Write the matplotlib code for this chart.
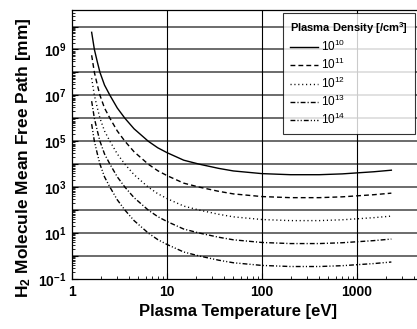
import numpy as np
import matplotlib
matplotlib.use("Agg")
import matplotlib.pyplot as plt
from matplotlib.ticker import LogLocator, FixedLocator, FixedFormatter, NullFormatter

plt.rcParams["font.family"] = ["Liberation Sans", "DejaVu Sans"]
plt.rcParams["mathtext.fontset"] = "custom"
plt.rcParams["mathtext.rm"] = "Liberation Sans"
plt.rcParams["mathtext.bf"] = "Liberation Sans:bold"
plt.rcParams["mathtext.it"] = "Liberation Sans:italic"

# Plasma temperature [eV]
temperature = [1.61, 1.72, 1.85, 1.97, 2.2, 2.51, 3.0, 3.61, 4.5, 6.36, 8.0, 10.0,
               15.0, 22.0, 35.0, 50.0, 100.0, 200.0, 400.0, 700.0, 1000.0, 1500.0, 2300.0]

# H2 mean free path [mm] for each plasma density
mfp_1e10 = [5.6e9, 1.0e9, 2.8e8, 1.0e8, 2.8e7, 1.0e7, 2.8e6, 1.0e6, 3.5e5, 1.0e5, 5.2e4, 3.2e4,
            1.5e4, 1.0e4, 6.6e3, 5.1e3, 3.9e3, 3.5e3, 3.5e3, 3.8e3, 4.2e3, 4.7e3, 5.5e3]
mfp_1e11 = [5.6e8, 1.0e8, 2.8e7, 1.0e7, 2.8e6, 1.0e6, 2.8e5, 1.0e5, 3.5e4, 1.0e4, 5.2e3, 3.2e3,
            1.5e3, 1.0e3, 6.6e2, 5.1e2, 3.9e2, 3.5e2, 3.5e2, 3.8e2, 4.2e2, 4.7e2, 5.5e2]
mfp_1e12 = [5.6e7, 1.0e7, 2.8e6, 1.0e6, 2.8e5, 1.0e5, 2.8e4, 1.0e4, 3.5e3, 1.0e3, 5.2e2, 3.2e2,
            1.5e2, 1.0e2, 6.6e1, 5.1e1, 3.9e1, 3.5e1, 3.5e1, 3.8e1, 4.2e1, 4.7e1, 5.5e1]
mfp_1e13 = [5.6e6, 1.0e6, 2.8e5, 1.0e5, 2.8e4, 1.0e4, 2.8e3, 1.0e3, 3.5e2, 1.0e2, 5.2e1, 3.2e1,
            1.5e1, 1.0e1, 6.6e0, 5.1e0, 3.9e0, 3.5e0, 3.5e0, 3.8e0, 4.2e0, 4.7e0, 5.5e0]
mfp_1e14 = [5.6e5, 1.0e5, 2.8e4, 1.0e4, 2.8e3, 1.0e3, 2.8e2, 1.0e2, 3.5e1, 1.0e1, 5.2e0, 3.2e0,
            1.5e0, 1.0e0, 6.6e-1, 5.1e-1, 3.9e-1, 3.5e-1, 3.5e-1, 3.8e-1, 4.2e-1, 4.7e-1, 5.5e-1]

density_labels = [r"$10^{10}$", r"$10^{11}$", r"$10^{12}$", r"$10^{13}$", r"$10^{14}$"]
series = [mfp_1e10, mfp_1e11, mfp_1e12, mfp_1e13, mfp_1e14]

x_ticks = [1, 10, 100, 1000]
x_tick_labels = ["1", "10", "100", "1000"]
y_label_exponents = [-1, 1, 3, 5, 7, 9]

styles = [
    "-",
    (0, (3.5, 2.2)),
    (0, (0.8, 2.0)),
    (0, (3.5, 1.5, 0.8, 1.5)),
    (0, (3.5, 1.5, 0.8, 1.5, 0.8, 1.5)),
]

W, H = 417, 329
fig = plt.figure(figsize=(W / 100, H / 100), dpi=100)

left_px, top_px, bottom_px = 72, 10, 279
decade_x = 95.0
x_max_log = 3.66
right_px = left_px + decade_x * x_max_log
ax_w = right_px - left_px
ax_h = bottom_px - top_px
ax = fig.add_axes([left_px / W, 1 - bottom_px / H, ax_w / W, ax_h / H])

ax.set_xscale("log")
ax.set_yscale("log")
ax.set_xlim(1, 10 ** x_max_log)
ax.set_ylim(0.1, 10 ** 10.72)

# decade grid
for e in range(0, 11):
    ax.axhline(10.0 ** e, color="#444444", lw=1.1, zorder=1)
for xv in [10, 100, 1000]:
    ax.axvline(xv, color="black", lw=0.8, zorder=1)

for vals, lab, ls in zip(series, density_labels, styles):
    ax.plot(temperature, vals, color="black", lw=1.0, linestyle=ls, label=lab, zorder=3)

# ticks
ax.xaxis.set_major_locator(FixedLocator(x_ticks))
ax.xaxis.set_major_formatter(FixedFormatter(x_tick_labels))
ax.xaxis.set_minor_locator(LogLocator(base=10, subs=np.arange(2, 10)))
ax.xaxis.set_minor_formatter(NullFormatter())

y_major = [10.0 ** e for e in range(-1, 11)]
y_major_labels = [(r"$\mathbf{10^{%d}}$" % e) if e in y_label_exponents else "" for e in range(-1, 11)]
ax.yaxis.set_major_locator(FixedLocator(y_major))
ax.yaxis.set_major_formatter(FixedFormatter(y_major_labels))
ax.yaxis.set_minor_locator(LogLocator(base=10, subs=np.arange(2, 10), numticks=30))
ax.yaxis.set_minor_formatter(NullFormatter())

ax.tick_params(which="both", direction="in", top=False, right=False)
ax.tick_params(which="major", length=4, width=0.8, labelsize=10, pad=4)
ax.tick_params(which="minor", length=2, width=0.6)
for lbl in ax.get_xticklabels():
    lbl.set_fontweight("bold")

for sp in ax.spines.values():
    sp.set_linewidth(0.9)

ax.set_xlabel("Plasma Temperature [eV]", fontsize=12, fontweight="bold")
ax.xaxis.set_label_coords((238 - left_px) / ax_w, -(304 - bottom_px) / ax_h)
ax.set_ylabel(r"$\mathbf{H_2}$ Molecule Mean Free Path [mm]", fontsize=12.5, fontweight="bold")
ax.yaxis.set_label_coords(-(left_px - 33) / ax_w, (bottom_px - 158) / ax_h)

leg = ax.legend(loc="upper right", bbox_to_anchor=(415 / W, 1 - 13 / H), bbox_transform=fig.transFigure,
                borderaxespad=0, fancybox=False, frameon=True, fontsize=8.5, handlelength=2.4,
                handletextpad=0.25, labelspacing=0.26, borderpad=0.6,
                title=r"Plasma Density [/cm$^{\mathbf{3}}$]",
                title_fontproperties={"weight": "bold", "size": 8})
leg.get_frame().set_edgecolor("black")
leg.get_frame().set_linewidth(0.8)
leg.set_zorder(5)
leg._legend_box.align = "left"

fig.savefig("out.png", dpi=100)
